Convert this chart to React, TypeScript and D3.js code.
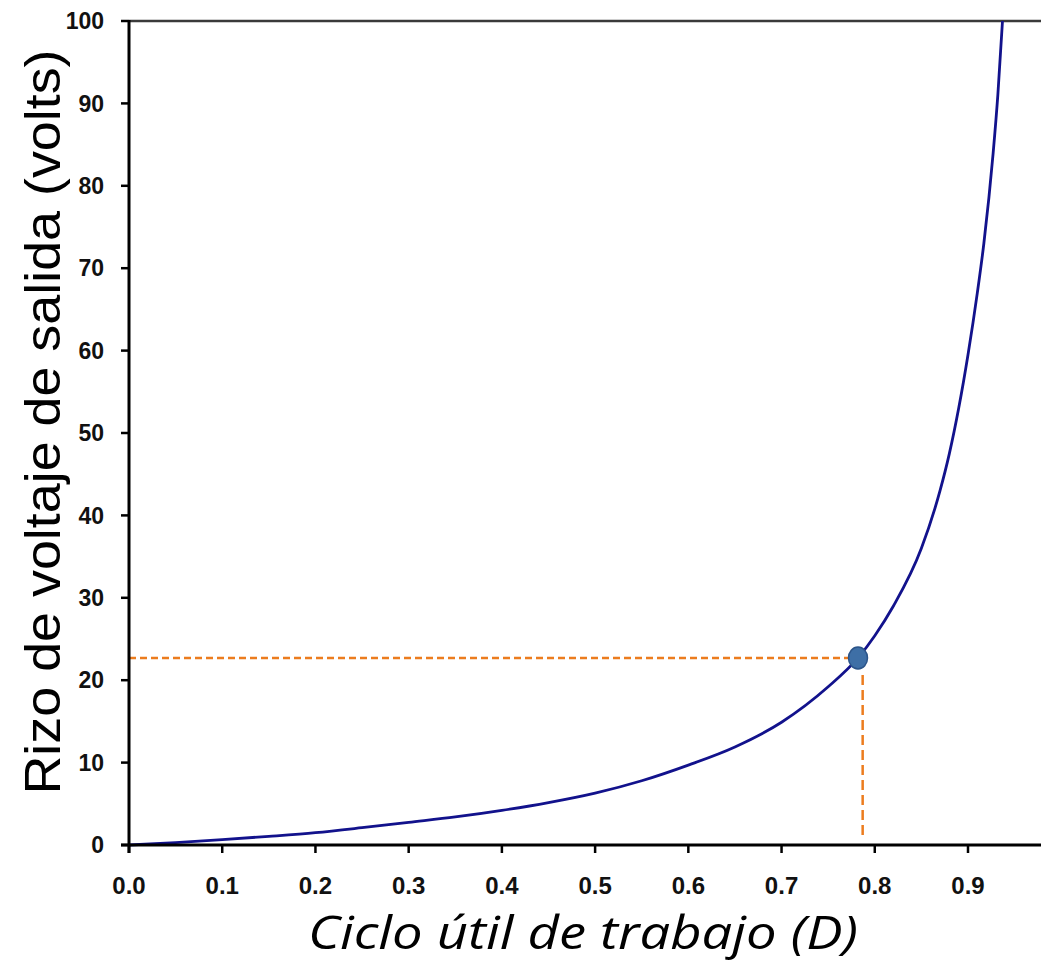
import React, { useEffect, useRef } from "react";
import * as d3 from "d3";

// Duty cycle D vs. output voltage ripple (volts)
const dutyCycle = [
  0, 0.05, 0.1, 0.15, 0.2, 0.25, 0.3, 0.35, 0.4, 0.45, 0.5, 0.55, 0.6, 0.65,
  0.7, 0.75, 0.782, 0.8, 0.82, 0.85, 0.87, 0.88, 0.89, 0.9, 0.91, 0.917, 0.927,
  0.932, 0.937,
];
const rippleVolts = [
  0, 0.3, 0.65, 1.05, 1.5, 2.1, 2.75, 3.4, 4.2, 5.15, 6.3, 7.8, 9.7, 11.9,
  14.9, 19.2, 22.7, 25.4, 29.0, 36.0, 43.0, 47.5, 53.0, 59.5, 67.0, 73.0, 84.0,
  91.0, 100,
];

// Operating point and its guide lines
const pointD = 0.782;
const pointV = 22.7;
const guideD = 0.787;

const xTicks = [0, 0.1, 0.2, 0.3, 0.4, 0.5, 0.6, 0.7, 0.8, 0.9];
const yTicks = [0, 10, 20, 30, 40, 50, 60, 70, 80, 90, 100];

const xTitle = "Ciclo útil de trabajo (D)";
const yTitle = "Rizo de voltaje de salida (volts)";

const W = 1041;
const H = 962;

export default function App() {
  const ref = useRef<SVGSVGElement | null>(null);

  useEffect(() => {
    const svg = d3.select(ref.current);
    svg.selectAll("*").remove();

    const x = d3.scaleLinear().domain([0, 0.9]).range([129, 968]);
    const y = d3.scaleLinear().domain([0, 100]).range([845, 21]);
    const xEnd = W;

    const tickFont = "'Liberation Sans', Arial, sans-serif";

    // frame: top border
    svg
      .append("line")
      .attr("x1", x(0))
      .attr("x2", xEnd)
      .attr("y1", y(100))
      .attr("y2", y(100))
      .attr("stroke", "#3a3a3a")
      .attr("stroke-width", 2.5);

    // guide lines
    svg
      .append("line")
      .attr("x1", x(0))
      .attr("x2", x(pointD) - 10)
      .attr("y1", y(pointV))
      .attr("y2", y(pointV))
      .attr("stroke", "#ec7c1e")
      .attr("stroke-width", 2.5)
      .attr("stroke-dasharray", "7,4");
    svg
      .append("line")
      .attr("x1", x(guideD))
      .attr("x2", x(guideD))
      .attr("y1", y(pointV) + 17)
      .attr("y2", y(0) - 7)
      .attr("stroke", "#ec7c1e")
      .attr("stroke-width", 2.5)
      .attr("stroke-dasharray", "10,5");

    // curve
    const line = d3
      .line<number>()
      .x((_, i) => x(dutyCycle[i]))
      .y((v) => y(v))
      .curve(d3.curveMonotoneX);
    svg
      .append("path")
      .attr("d", line(rippleVolts) as string)
      .attr("fill", "none")
      .attr("stroke", "#12128c")
      .attr("stroke-width", 2.8);

    // operating point
    svg
      .append("ellipse")
      .attr("cx", x(pointD))
      .attr("cy", y(pointV))
      .attr("rx", 9.5)
      .attr("ry", 11)
      .attr("fill", "#3e6fa6")
      .attr("stroke", "#2b5489")
      .attr("stroke-width", 1.5);

    // y axis
    const gy = svg.append("g");
    gy.append("line")
      .attr("x1", x(0))
      .attr("x2", x(0))
      .attr("y1", y(100) - 1)
      .attr("y2", y(0) + 8)
      .attr("stroke", "#000")
      .attr("stroke-width", 3);
    yTicks.forEach((t) => {
      gy.append("line")
        .attr("x1", x(0) - 8)
        .attr("x2", x(0))
        .attr("y1", y(t))
        .attr("y2", y(t))
        .attr("stroke", "#000")
        .attr("stroke-width", 2.5);
      gy.append("text")
        .attr("x", 104)
        .attr("y", y(t))
        .attr("dy", "0.36em")
        .attr("text-anchor", "end")
        .attr("font-family", tickFont)
        .attr("font-weight", "bold")
        .attr("font-size", 23)
        .attr("fill", "#111")
        .text(String(t));
    });

    // x axis
    const gx = svg.append("g");
    gx.append("line")
      .attr("x1", x(0) - 8)
      .attr("x2", xEnd)
      .attr("y1", y(0))
      .attr("y2", y(0))
      .attr("stroke", "#000")
      .attr("stroke-width", 3);
    xTicks.forEach((t) => {
      gx.append("line")
        .attr("x1", x(t))
        .attr("x2", x(t))
        .attr("y1", y(0))
        .attr("y2", y(0) + 8)
        .attr("stroke", "#000")
        .attr("stroke-width", 2.5);
      gx.append("text")
        .attr("x", x(t))
        .attr("y", 894)
        .attr("text-anchor", "middle")
        .attr("font-family", tickFont)
        .attr("font-weight", "bold")
        .attr("font-size", 24)
        .attr("fill", "#111")
        .text(t.toFixed(1));
    });

    // titles
    svg
      .append("text")
      .attr("x", 583)
      .attr("y", 949)
      .attr("text-anchor", "middle")
      .attr("font-family", "'Open Sans', 'Noto Sans', sans-serif")
      .attr("font-style", "italic")
      .attr("font-size", 46)
      .attr("textLength", 550)
      .attr("lengthAdjust", "spacingAndGlyphs")
      .attr("fill", "#000")
      .text(xTitle);

    svg
      .append("text")
      .attr("transform", `translate(60,422) rotate(-90)`)
      .attr("text-anchor", "middle")
      .attr("font-family", "'Liberation Sans Narrow', 'Liberation Sans', sans-serif")
      .attr("font-size", 50)
      .attr("textLength", 745)
      .attr("lengthAdjust", "spacingAndGlyphs")
      .attr("fill", "#000")
      .text(yTitle);
  }, []);

  return (
    <svg
      ref={ref}
      width={W}
      height={H}
      style={{ position: "absolute", left: 0, top: 0, background: "#fff" }}
    />
  );
}
